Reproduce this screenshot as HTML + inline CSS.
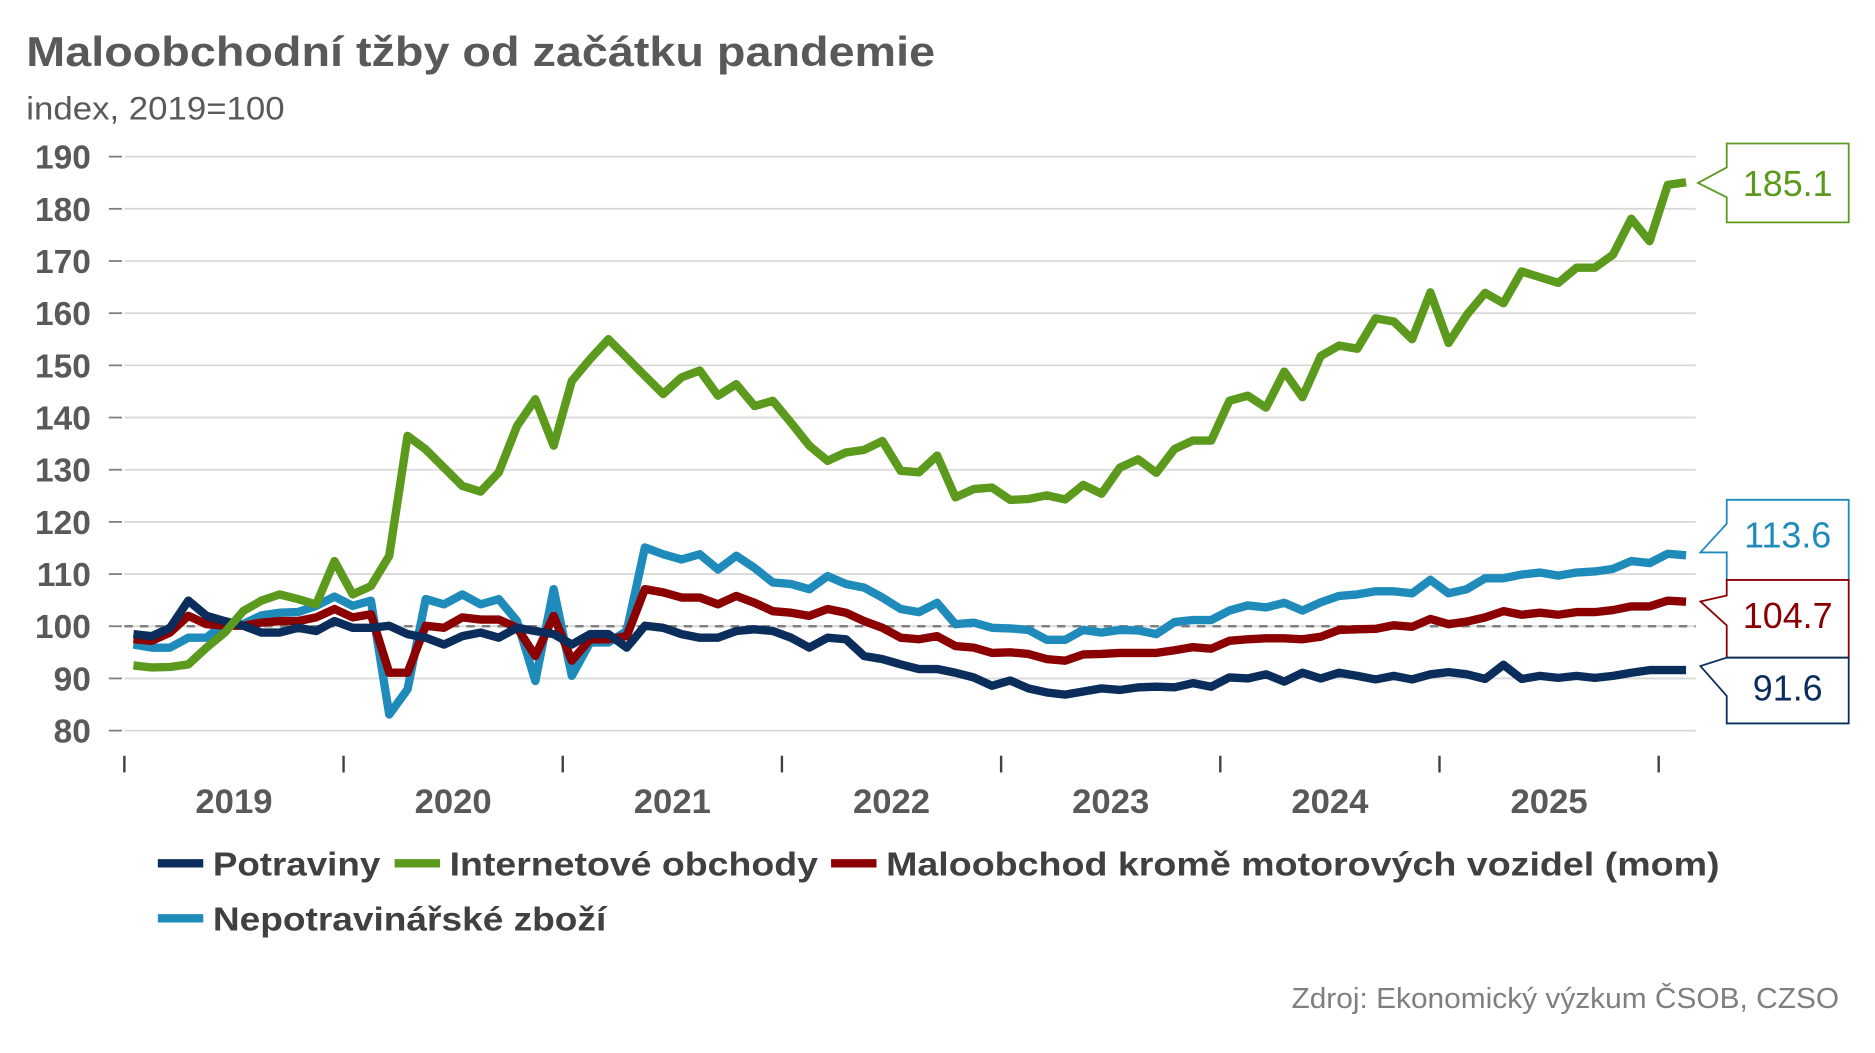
<!DOCTYPE html>
<html><head><meta charset="utf-8">
<style>
html,body{margin:0;padding:0;background:#fff;}
svg{display:block;font-family:"Segoe UI","Liberation Sans","DejaVu Sans",sans-serif;}
</style></head>
<body>
<svg id="chart" width="1875" height="1053" viewBox="0 0 1568 880.6" preserveAspectRatio="none" xmlns="http://www.w3.org/2000/svg">
<text x="22" y="55" font-size="35" font-weight="bold" fill="#595959" textLength="760" lengthAdjust="spacingAndGlyphs">Maloobchodní tžby od začátku pandemie</text>
<text x="22" y="100" font-size="27" fill="#595959" font-weight="300" textLength="216" lengthAdjust="spacingAndGlyphs">index, 2019=100</text>
<g id="grid"></g>
<g id="yaxis"></g>
<g id="xaxis"></g>
<g id="series"></g>
<g id="callouts"></g>
<g font-size="28" font-weight="bold" fill="#404040">
  <g><line x1="132" y1="722" x2="170" y2="722" stroke="#0b2d5b" stroke-width="7"/><text x="178" y="732" textLength="140" lengthAdjust="spacingAndGlyphs">Potraviny</text></g>
  <g><line x1="330" y1="722" x2="368" y2="722" stroke="#5b9a1c" stroke-width="7"/><text x="376" y="732" textLength="308" lengthAdjust="spacingAndGlyphs">Internetové obchody</text></g>
  <g><line x1="695" y1="722" x2="733" y2="722" stroke="#8b0000" stroke-width="7"/><text x="741" y="732" textLength="697" lengthAdjust="spacingAndGlyphs">Maloobchod kromě motorových vozidel (mom)</text></g>
  <g><line x1="132" y1="768" x2="170" y2="768" stroke="#1f8bbb" stroke-width="7"/><text x="178" y="778" textLength="329" lengthAdjust="spacingAndGlyphs">Nepotravinářské zboží</text></g>
</g>
<text x="1538" y="843" text-anchor="end" font-size="24" fill="#7f7f7f" font-weight="300" textLength="458" lengthAdjust="spacingAndGlyphs">Zdroj: Ekonomický výzkum ČSOB, CZSO</text>
</svg>
<script>
const yTicks = [190,180,170,160,150,140,130,120,110,100,90,80];
const years = ["2019","2020","2021","2022","2023","2024","2025"];
const potraviny = [98.5,98.1,99.7,104.9,102,101,100.1,98.8,98.8,99.7,99.1,101,99.7,99.7,100.1,98.5,97.8,96.5,98.1,98.8,97.8,99.7,99.1,98.5,96.5,98.5,98.5,95.9,100.1,99.7,98.5,97.8,97.8,99.1,99.4,99.1,97.8,95.9,97.8,97.5,94.3,93.7,92.7,91.8,91.8,91.1,90.2,88.6,89.6,88.1,87.3,86.9,87.5,88.1,87.8,88.3,88.4,88.3,89.1,88.4,90.2,90,90.8,89.4,91.1,90,91.1,90.5,89.8,90.5,89.8,90.8,91.2,90.8,89.9,92.6,89.9,90.5,90.1,90.5,90.1,90.5,91.1,91.6,91.6,91.6];
const internet = [92.5,92.1,92.2,92.7,95.9,98.8,102.9,104.9,106.1,105.2,104.2,112.5,106.1,107.7,113.5,136.5,133.9,130.4,126.9,125.8,129.5,138.4,143.5,134.6,147,151.2,155,151.5,148,144.5,147.7,149,144.2,146.4,142.2,143.2,139,134.6,131.7,133.3,133.8,135.5,129.8,129.5,132.7,124.7,126.3,126.6,124.2,124.4,125.1,124.3,127.1,125.4,130.4,132,129.4,134,135.6,135.6,143.2,144.2,141.9,148.8,143.9,151.8,153.8,153.2,159,158.4,155,164,154.3,159.7,163.9,161.9,168,166.9,165.8,168.7,168.7,171.2,178.1,173.8,184.6,185.1];
const maloobchod = [97.5,97.2,98.8,102,100.4,100.1,100.1,100.7,101,101,101.7,103.3,101.7,102.3,91.1,91.1,100.1,99.7,101.7,101.3,101.3,99.7,94.3,102,93.4,97.5,97.5,98.1,107.1,106.5,105.5,105.5,104.2,105.8,104.5,102.9,102.6,102,103.3,102.6,101,99.7,97.8,97.5,98.1,96.2,95.9,94.9,95,94.7,93.7,93.4,94.6,94.7,94.9,94.9,94.9,95.4,96,95.7,97.2,97.5,97.7,97.7,97.5,98,99.3,99.4,99.5,100.2,99.9,101.4,100.4,100.9,101.7,102.9,102.2,102.6,102.2,102.7,102.7,103.1,103.8,103.8,104.9,104.7];
const nepotravinarske = [96.5,95.9,95.9,97.8,97.8,100.6,100.4,102.1,102.6,102.7,103.9,105.7,103.9,104.9,83.1,87.9,105.2,104.2,106.1,104.2,105.2,101,89.5,107.1,90.5,96.9,96.9,99.1,115.1,113.8,112.8,113.8,110.9,113.5,111.2,108.4,108.1,107.1,109.6,108.1,107.4,105.5,103.3,102.7,104.5,100.4,100.7,99.7,99.6,99.3,97.4,97.4,99.3,98.8,99.3,99.2,98.5,100.8,101.2,101.2,103,104,103.6,104.5,103,104.6,105.8,106.1,106.7,106.7,106.3,108.9,106.3,107.1,109.2,109.2,109.9,110.3,109.7,110.3,110.5,111,112.5,112.1,113.9,113.6];
const lastLabels = ["185.1","113.6","104.7","91.6"];

const NS="http://www.w3.org/2000/svg";
const X0=104, X1=1418, YEARW=183.3, MONTH=YEARW/12;
function yScale(v){return 131+(190-v)*4.3636;}
function xScale(i){return X0+MONTH*(i+0.5);}
function mk(tag,attrs,parent){const e=document.createElementNS(NS,tag);for(const k in attrs)e.setAttribute(k,attrs[k]);parent.appendChild(e);return e;}

const grid=document.getElementById('grid'), yax=document.getElementById('yaxis'), xax=document.getElementById('xaxis');
yTicks.forEach(t=>{
  const y=yScale(t);
  const gl=mk('line',{x1:X0,y1:y,x2:X1,y2:y,stroke:'#d9d9d9','stroke-width':1.5},grid);
  
  
  const tk=mk('line',{x1:91,y1:y,x2:102,y2:y,stroke:'#7f7f7f','stroke-width':1.5},yax);
  
  
  const tx=mk('text',{x:76,y:y+10,'text-anchor':'end','font-size':28,'font-weight':'bold',fill:'#595959'},yax);
  tx.textContent=t;
  
  
});
const base=mk('line',{x1:X0,y1:yScale(100),x2:X1,y2:yScale(100),stroke:'#808080','stroke-width':2,'stroke-dasharray':'7,6'},grid);


for(let k=0;k<=years.length;k++){
  const x=X0+k*YEARW;
  const t=mk('line',{x1:x,y1:632,x2:x,y2:646,stroke:'#404040','stroke-width':2},xax);
  
  
}
years.forEach((yr,k)=>{
  const tx=mk('text',{x:X0+k*YEARW+YEARW/2,y:680,'text-anchor':'middle','font-size':29,'font-weight':'bold',fill:'#595959'},xax);
  tx.textContent=yr;
  
  
});
const ser=document.getElementById('series');
function drawLine(data,color,name){
  const d=data.map((v,i)=>(i?'L':'M')+xScale(i).toFixed(1)+','+yScale(v).toFixed(1)).join('');
  const p=mk('path',{d:d,fill:'none',stroke:color,'stroke-width':7,'stroke-linejoin':'round'},ser);
  
  
}
drawLine(nepotravinarske,'#1f8bbb','line-nepotravinarske');
drawLine(maloobchod,'#8b0000','line-maloobchod');
drawLine(potraviny,'#0b2d5b','line-potraviny');
drawLine(internet,'#5b9a1c','line-internet');

const co=document.getElementById('callouts');
function callout(pts,box,color,label,ty,name){
  const [bx,by,bw,bh]=box;
  const d='M'+bx+','+by+'H'+(bx+bw)+'V'+(by+bh)+'H'+bx+'V'+pts[2]+'L'+pts[0]+','+pts[1]+'L'+bx+','+pts[3]+'Z';
  const g=mk('g',{},co);
  
  
  mk('path',{d:d,fill:'#fff',stroke:color,'stroke-width':1.5},g);
  const t=mk('text',{x:bx+bw/2,y:ty,'text-anchor':'middle','font-size':30,fill:color},g);
  t.textContent=label;
}
callout([1420,153,165,140],[1444,120,102,66],'#5b9a1c',lastLabels[0],164,'callout-internet');
callout([1422,462,462,438],[1444,418,102,67],'#1f8bbb',lastLabels[1],458,'callout-nepotravinarske');
callout([1422,503,523,498],[1444,485,102,65],'#8b0000',lastLabels[2],525,'callout-maloobchod');
callout([1422,557,582,550],[1444,550,102,55],'#0b2d5b',lastLabels[3],586,'callout-potraviny');
</script>
</body></html>
